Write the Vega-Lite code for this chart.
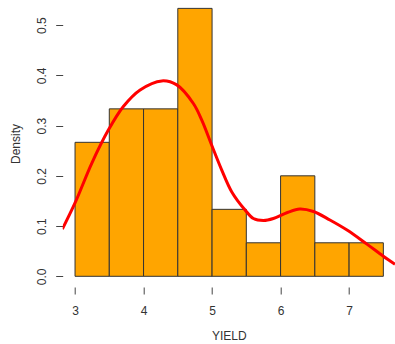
{
  "$schema": "https://vega.github.io/schema/vega-lite/v6.json",
  "width": 332.3,
  "height": 287,
  "autosize": {"type": "none"},
  "padding": {"left": 62.7, "top": 0, "right": 0, "bottom": 57},
  "config": {
    "view": {"stroke": null},
    "font": "Liberation Sans",
    "axis": {
      "domain": false,
      "grid": false,
      "tickSize": 7,
      "tickColor": "#444444",
      "tickWidth": 1,
      "labelFont": "Liberation Sans",
      "labelFontSize": 12,
      "labelColor": "#333333",
      "titleFont": "Liberation Sans",
      "titleFontSize": 12,
      "titleFontWeight": "normal",
      "titleColor": "#333333"
    }
  },
  "datasets": {
    "bins": [
      {"lo": 3.0, "hi": 3.5, "density": 0.2667},
      {"lo": 3.5, "hi": 4.0, "density": 0.3333},
      {"lo": 4.0, "hi": 4.5, "density": 0.3333},
      {"lo": 4.5, "hi": 5.0, "density": 0.5333},
      {"lo": 5.0, "hi": 5.5, "density": 0.1333},
      {"lo": 5.5, "hi": 6.0, "density": 0.0667},
      {"lo": 6.0, "hi": 6.5, "density": 0.2},
      {"lo": 6.5, "hi": 7.0, "density": 0.0667},
      {"lo": 7.0, "hi": 7.5, "density": 0.0667}
    ],
    "dens": [
      {"x": 2.815, "y": 0.094},
      {"x": 3.0, "y": 0.146},
      {"x": 3.244, "y": 0.225},
      {"x": 3.486, "y": 0.291},
      {"x": 3.705, "y": 0.338},
      {"x": 3.95, "y": 0.371},
      {"x": 4.266, "y": 0.389},
      {"x": 4.485, "y": 0.381},
      {"x": 4.727, "y": 0.344},
      {"x": 4.85, "y": 0.311},
      {"x": 4.995, "y": 0.261},
      {"x": 5.14, "y": 0.212},
      {"x": 5.288, "y": 0.168},
      {"x": 5.482, "y": 0.132},
      {"x": 5.603, "y": 0.115},
      {"x": 5.75, "y": 0.111},
      {"x": 5.895, "y": 0.115},
      {"x": 6.1, "y": 0.127},
      {"x": 6.28, "y": 0.134},
      {"x": 6.48, "y": 0.129},
      {"x": 6.72, "y": 0.112},
      {"x": 6.97, "y": 0.092},
      {"x": 7.26, "y": 0.064},
      {"x": 7.5, "y": 0.040},
      {"x": 7.67, "y": 0.024}
    ]
  },
  "layer": [
    {
      "data": {"name": "bins"},
      "mark": {"type": "bar", "fill": "#FFA500", "stroke": "#333333", "strokeWidth": 1},
      "encoding": {
        "x": {
          "field": "lo", "type": "quantitative",
          "scale": {"domain": [2.82, 7.67], "nice": false, "zero": false},
          "axis": {"values": [3, 4, 5, 6, 7], "format": "d", "title": "YIELD", "labelPadding": 11, "titlePadding": 14}
        },
        "x2": {"field": "hi"},
        "y": {
          "field": "density", "type": "quantitative",
          "scale": {"domain": [-0.0213, 0.55], "nice": false, "zero": false},
          "axis": {"values": [0, 0.1, 0.2, 0.3, 0.4, 0.5], "format": ".1f", "title": "Density",
                   "labelAngle": -90, "labelAlign": "center", "labelBaseline": "bottom",
                   "labelPadding": 7, "titlePadding": 13}
        },
        "y2": {"datum": 0}
      }
    },
    {
      "data": {"name": "dens"},
      "mark": {"type": "line", "color": "#FF0000", "strokeWidth": 3, "interpolate": "catmull-rom", "clip": true},
      "encoding": {
        "x": {"field": "x", "type": "quantitative"},
        "y": {"field": "y", "type": "quantitative"}
      }
    },
    {
      "mark": {"type": "rule", "color": "#444444", "strokeWidth": 1},
      "encoding": {
        "x": {"datum": 2.82, "type": "quantitative"},
        "y": {"datum": 0, "type": "quantitative"},
        "y2": {"datum": 0.5}
      }
    },
    {
      "mark": {"type": "rule", "color": "#444444", "strokeWidth": 1},
      "encoding": {
        "y": {"datum": -0.0213, "type": "quantitative"},
        "x": {"datum": 3, "type": "quantitative"},
        "x2": {"datum": 7}
      }
    }
  ]
}
